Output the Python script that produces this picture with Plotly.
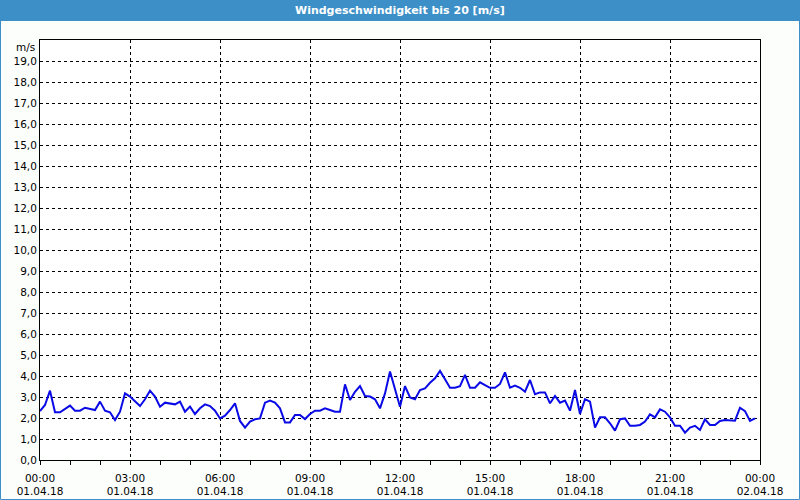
import plotly.graph_objects as go

# time in minutes since 01.04.18 00:00 (10-minute samples)
minutes = list(range(0, 1440, 10))
speed = [
    2.33, 2.62, 3.30, 2.27, 2.27, 2.43, 2.59, 2.35, 2.35, 2.49, 2.45, 2.38,
    2.78, 2.35, 2.27, 1.90, 2.30, 3.17, 3.02, 2.78, 2.57, 2.89, 3.30, 3.02,
    2.54, 2.73, 2.70, 2.65, 2.78, 2.30, 2.54, 2.19, 2.46, 2.65, 2.57, 2.35,
    1.98, 2.11, 2.38, 2.70, 1.86, 1.54, 1.83, 1.94, 1.98, 2.73, 2.83, 2.73,
    2.46, 1.79, 1.79, 2.14, 2.14, 1.95, 2.19, 2.35, 2.35, 2.46, 2.38, 2.30,
    2.30, 3.60, 2.86, 3.25, 3.52, 3.05, 3.02, 2.89, 2.46, 3.17, 4.21, 3.41,
    2.54, 3.52, 2.98, 2.89, 3.33, 3.41, 3.68, 3.89, 4.24, 3.84, 3.44, 3.44,
    3.52, 4.05, 3.44, 3.44, 3.70, 3.57, 3.44, 3.44, 3.62, 4.17, 3.44, 3.54,
    3.44, 3.25, 3.81, 3.13, 3.22, 3.22, 2.70, 3.05, 2.73, 2.83, 2.35, 3.33,
    2.19, 2.90, 2.78, 1.54, 2.03, 2.03, 1.75, 1.40, 1.94, 1.98, 1.63, 1.63,
    1.67, 1.83, 2.17, 2.03, 2.41, 2.30, 2.03, 1.63, 1.63, 1.30, 1.54, 1.63,
    1.43, 1.94, 1.67, 1.67, 1.86, 1.90, 1.90, 1.87, 2.49, 2.33, 1.86, 1.98,
]

x_tickvals = [0, 180, 360, 540, 720, 900, 1080, 1260, 1440]
x_ticktext = [
    "00:00<br>01.04.18", "03:00<br>01.04.18", "06:00<br>01.04.18",
    "09:00<br>01.04.18", "12:00<br>01.04.18", "15:00<br>01.04.18",
    "18:00<br>01.04.18", "21:00<br>01.04.18", "00:00<br>02.04.18",
]
y_tickvals = list(range(0, 20))
y_ticktext = [f"{v},0" for v in y_tickvals]

title = "Windgeschwindigkeit bis 20 [m/s]"
unit = "m/s"

W, H = 800, 500
L, R, T, B = 40, 40, 40, 40
pw, ph = W - L - R, H - T - B

fig = go.Figure()
fig.add_trace(go.Scatter(
    x=minutes, y=speed, mode="lines",
    line=dict(color="#0a0ae6", width=2),
    hoverinfo="skip", showlegend=False,
))

fnt = dict(family="DejaVu Sans, Verdana, sans-serif", size=10.5, color="#000000")

fig.update_layout(
    width=W, height=H,
    margin=dict(l=L, r=R, t=T, b=B, autoexpand=False),
    paper_bgcolor="#fcfefc",
    plot_bgcolor="#ffffff",
    font=fnt,
    xaxis=dict(
        range=[0, 1440],
        tickmode="array", tickvals=x_tickvals, ticktext=x_ticktext,
        showgrid=True, gridcolor="#000000", gridwidth=1, griddash="3px,3px",
        showline=True, linecolor="#000000", linewidth=1, mirror=True,
        ticks="", zeroline=False,
        ticklabelstandoff=8,
        automargin=False,
        minor=dict(dtick=60, tick0=0, ticks="outside", ticklen=4,
                   tickcolor="#000000", showgrid=False),
        tickfont=fnt,
        fixedrange=True,
    ),
    yaxis=dict(
        range=[0, 20],
        tickmode="array", tickvals=y_tickvals, ticktext=y_ticktext,
        showgrid=True, gridcolor="#000000", gridwidth=1, griddash="3px,3px",
        showline=True, linecolor="#000000", linewidth=1, mirror=True,
        ticks="", zeroline=False,
        automargin=False,
        tickfont=fnt,
        fixedrange=True,
    ),
    shapes=[
        # window border
        dict(type="rect", xref="paper", yref="paper",
             x0=-L / pw + 0.5 / pw, x1=1 + R / pw - 0.5 / pw,
             y0=-B / ph + 0.5 / ph, y1=1 + T / ph - 0.5 / ph,
             line=dict(color="#3d8fc7", width=1), fillcolor="rgba(0,0,0,0)",
             layer="above"),
        # title bar
        dict(type="rect", xref="paper", yref="paper",
             x0=-L / pw, x1=1 + R / pw,
             y0=1 + (T - 21) / ph, y1=1 + T / ph,
             line=dict(width=0), fillcolor="#3d8fc7", layer="above"),
    ],
    annotations=[
        dict(text=f"<b>{title}</b>", xref="paper", yref="paper",
             x=0.5, y=1 + (T - 10.5) / ph, xanchor="center", yanchor="middle",
             showarrow=False,
             font=dict(family="DejaVu Sans, Verdana, sans-serif", size=11, color="#ffffff")),
        dict(text=unit, xref="paper", yref="paper",
             x=-3 / pw, y=1 - 7 / ph, xanchor="right", yanchor="middle",
             showarrow=False, font=fnt),
    ],
)

fig.write_html("out.html")
